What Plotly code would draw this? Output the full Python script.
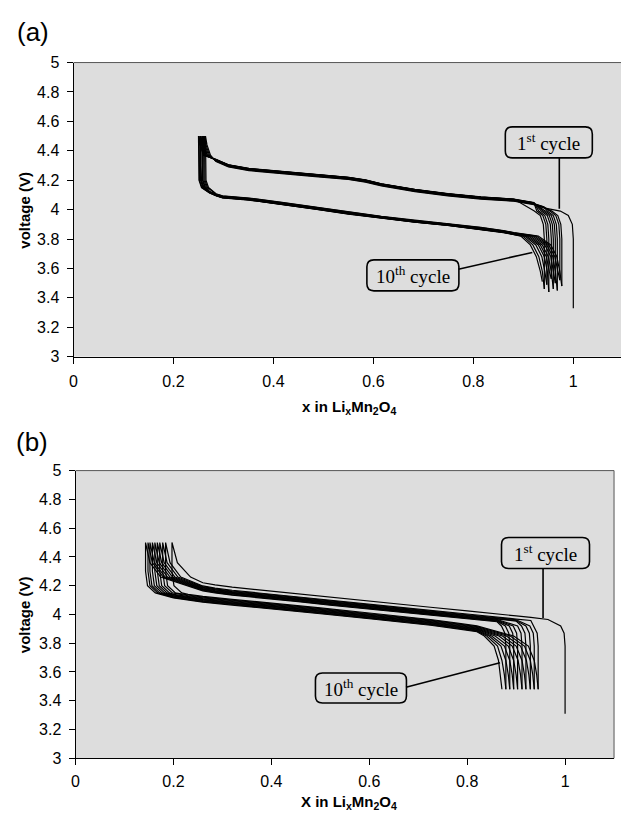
import plotly.graph_objects as go

# ---------------- shared axis ticks ----------------
X_TICKS = [0, 0.2, 0.4, 0.6, 0.8, 1]
X_TICK_TEXT = ["0", "0.2", "0.4", "0.6", "0.8", "1"]
Y_TICKS = [3, 3.2, 3.4, 3.6, 3.8, 4, 4.2, 4.4, 4.6, 4.8, 5]
Y_TICK_TEXT = ["3", "3.2", "3.4", "3.6", "3.8", "4", "4.2", "4.4", "4.6", "4.8", "5"]
CYCLES = [1, 2, 3, 4, 5, 6, 7, 8, 9, 10]
V_CUTOFF = 4.5

# ---------------- panel (a) ----------------
A_FIRST_X = 1.0
A_FIRST_V = 3.33
A_X_TOP = [0.264, 0.262, 0.260, 0.258, 0.257, 0.255, 0.254, 0.253, 0.251, 0.250]
A_X_END = [0.977, 0.973, 0.968, 0.964, 0.960, 0.956, 0.951, 0.947, 0.942, 0.938]
A_V_END = [3.48, 3.52, 3.45, 3.50, 3.46, 3.53, 3.44, 3.49, 3.46, 3.51]
# charge head (rising from the discharge end)
A_HEAD_V = [3.80, 3.90, 3.96, 3.99]
A_HEAD_X = [
    [1.000, 0.998, 0.990, 0.974],
    [0.977, 0.975, 0.969, 0.957],
    [0.973, 0.971, 0.965, 0.953],
    [0.968, 0.966, 0.960, 0.948],
    [0.964, 0.962, 0.956, 0.944],
    [0.960, 0.958, 0.952, 0.940],
    [0.956, 0.954, 0.948, 0.936],
    [0.951, 0.949, 0.943, 0.931],
    [0.947, 0.945, 0.939, 0.927],
    [0.942, 0.940, 0.934, 0.922],
]
# charge plateau (x decreasing)
A_CH_PLAT_X = [0.960, 0.941, 0.921, 0.881, 0.815, 0.749, 0.683, 0.616, 0.584, 0.550, 0.484, 0.417, 0.351, 0.310, 0.285]
A_CH_PLAT_V = [4.000, 4.012, 4.034, 4.057, 4.072, 4.094, 4.123, 4.161, 4.187, 4.205, 4.225, 4.243, 4.265, 4.290, 4.327]
A_CH_DV = [0.000, 0.003, 0.005, 0.007, 0.009, 0.011, 0.012, 0.013, 0.014, 0.015]
# charge end bend towards the 4.5 V cut-off
A_CH_BEND_V = [4.37, 4.44]
A_CH_BEND_X = [
    [0.274, 0.267], [0.272, 0.265], [0.270, 0.263], [0.268, 0.261], [0.267, 0.260],
    [0.265, 0.258], [0.264, 0.257], [0.263, 0.256], [0.261, 0.254], [0.260, 0.253],
]
# discharge start drop
A_DIS_BEND_V = [4.30, 4.20, 4.15]
A_DIS_BEND_X = [
    [0.264, 0.265, 0.270], [0.262, 0.263, 0.268], [0.260, 0.261, 0.266], [0.258, 0.259, 0.264],
    [0.257, 0.258, 0.263], [0.255, 0.256, 0.261], [0.254, 0.255, 0.260], [0.253, 0.254, 0.259],
    [0.251, 0.252, 0.257], [0.250, 0.251, 0.256],
]
# discharge plateau (x increasing)
A_DIS_PLAT_X = [0.272, 0.285, 0.298, 0.351, 0.417, 0.484, 0.550, 0.616, 0.683, 0.749, 0.815, 0.860, 0.881]
A_DIS_PLAT_V = [4.128, 4.108, 4.094, 4.079, 4.050, 4.017, 3.984, 3.954, 3.928, 3.906, 3.879, 3.858, 3.844]
A_DIS_DV = [0.000, -0.002, -0.004, -0.006, -0.008, -0.010, -0.011, -0.012, -0.013, -0.014]
# discharge tail (falling to the cut-off)
A_TAIL_V = [3.82, 3.76, 3.68, 3.58]
A_TAIL_X = [
    [0.930, 0.955, 0.967, 0.973],
    [0.926, 0.951, 0.963, 0.969],
    [0.922, 0.947, 0.959, 0.964],
    [0.918, 0.943, 0.955, 0.960],
    [0.914, 0.938, 0.950, 0.956],
    [0.910, 0.934, 0.946, 0.952],
    [0.906, 0.930, 0.942, 0.948],
    [0.903, 0.925, 0.937, 0.943],
    [0.899, 0.919, 0.931, 0.938],
    [0.895, 0.914, 0.926, 0.934],
]

# ---------------- panel (b) ----------------
B_FIRST_X = 1.0
B_FIRST_V = 3.31
B_X_TOP = [0.197, 0.184, 0.178, 0.172, 0.167, 0.162, 0.157, 0.152, 0.148, 0.143]
B_X_END = [0.945, 0.937, 0.929, 0.920, 0.912, 0.903, 0.895, 0.887, 0.879, 0.871]
B_V_END = [3.48, 3.48, 3.48, 3.48, 3.48, 3.48, 3.48, 3.48, 3.48, 3.48]
B_HEAD_V = [3.78, 3.87, 3.92]
B_HEAD_X = [
    [1.000, 0.998, 0.991],
    [0.945, 0.943, 0.936],
    [0.937, 0.935, 0.928],
    [0.929, 0.927, 0.920],
    [0.920, 0.918, 0.911],
    [0.912, 0.910, 0.903],
    [0.903, 0.901, 0.894],
    [0.895, 0.893, 0.886],
    [0.887, 0.885, 0.878],
    [0.879, 0.877, 0.870],
]
B_CH_PLAT_X = [0.965, 0.945, 0.930, 0.900, 0.861, 0.800, 0.725, 0.650, 0.590, 0.520, 0.455, 0.390, 0.320, 0.285, 0.260]
B_CH_PLAT_V = [3.965, 3.975, 3.980, 3.990, 4.005, 4.025, 4.050, 4.075, 4.095, 4.120, 4.145, 4.165, 4.190, 4.205, 4.220]
B_CH_DV = [0.000, -0.022, -0.027, -0.032, -0.036, -0.040, -0.044, -0.048, -0.052, -0.056]
B_CH_BEND_V = [4.26, 4.36]
B_CH_BEND_X = [
    [0.235, 0.208], [0.215, 0.193], [0.209, 0.187], [0.203, 0.181], [0.198, 0.176],
    [0.193, 0.171], [0.188, 0.166], [0.183, 0.161], [0.179, 0.157], [0.174, 0.152],
]
B_DIS_BEND_V = [4.30, 4.20, 4.15]
B_DIS_BEND_X = [
    [0.197, 0.201, 0.217], [0.184, 0.188, 0.204], [0.178, 0.182, 0.198], [0.172, 0.176, 0.192],
    [0.167, 0.171, 0.187], [0.162, 0.166, 0.182], [0.157, 0.161, 0.177], [0.152, 0.156, 0.172],
    [0.148, 0.152, 0.168], [0.143, 0.147, 0.163],
]
B_DIS_PLAT_X = [0.200, 0.230, 0.260, 0.320, 0.400, 0.455, 0.500, 0.600, 0.700, 0.725, 0.780, 0.820]
B_DIS_PLAT_V = [4.135, 4.120, 4.105, 4.085, 4.060, 4.040, 4.025, 3.990, 3.955, 3.945, 3.920, 3.900]
B_DIS_DV = [0.020, 0.015, 0.010, 0.005, 0.000, -0.004, -0.008, -0.012, -0.016, -0.020]
B_TAIL_V = [3.85, 3.78, 3.68, 3.58]
B_TAIL_X = [
    [0.895, 0.925, 0.937, 0.942],
    [0.888, 0.917, 0.929, 0.934],
    [0.880, 0.909, 0.921, 0.926],
    [0.872, 0.900, 0.912, 0.917],
    [0.865, 0.892, 0.904, 0.909],
    [0.857, 0.884, 0.895, 0.900],
    [0.850, 0.876, 0.887, 0.892],
    [0.845, 0.869, 0.879, 0.884],
    [0.840, 0.862, 0.871, 0.876],
    [0.835, 0.855, 0.864, 0.868],
]

PANEL_A = dict(first_x=A_FIRST_X, first_v=A_FIRST_V, x_top=A_X_TOP, x_end=A_X_END, v_end=A_V_END,
               head_v=A_HEAD_V, head_x=A_HEAD_X, ch_px=A_CH_PLAT_X, ch_pv=A_CH_PLAT_V, ch_dv=A_CH_DV,
               ch_bv=A_CH_BEND_V, ch_bx=A_CH_BEND_X, d_bv=A_DIS_BEND_V, d_bx=A_DIS_BEND_X,
               d_px=A_DIS_PLAT_X, d_pv=A_DIS_PLAT_V, d_dv=A_DIS_DV, t_v=A_TAIL_V, t_x=A_TAIL_X)
PANEL_B = dict(first_x=B_FIRST_X, first_v=B_FIRST_V, x_top=B_X_TOP, x_end=B_X_END, v_end=B_V_END,
               head_v=B_HEAD_V, head_x=B_HEAD_X, ch_px=B_CH_PLAT_X, ch_pv=B_CH_PLAT_V, ch_dv=B_CH_DV,
               ch_bv=B_CH_BEND_V, ch_bx=B_CH_BEND_X, d_bv=B_DIS_BEND_V, d_bx=B_DIS_BEND_X,
               d_px=B_DIS_PLAT_X, d_pv=B_DIS_PLAT_V, d_dv=B_DIS_DV, t_v=B_TAIL_V, t_x=B_TAIL_X)


def cycle_curve(i, p):
    xs, vs = [], []
    if i == 0:
        xs.append(p["first_x"]); vs.append(p["first_v"])
    else:
        xs.append(p["x_end"][i - 1]); vs.append(p["v_end"][i - 1])
    # charge
    for x, v in zip(p["head_x"][i], p["head_v"]):
        xs.append(x); vs.append(v)
    hi = p["head_x"][i][-1] - 0.004
    lo = p["ch_bx"][i][0] + 0.004
    for x, v in zip(p["ch_px"], p["ch_pv"]):
        if lo < x < hi:
            xs.append(x); vs.append(v + p["ch_dv"][i])
    for x, v in zip(p["ch_bx"][i], p["ch_bv"]):
        xs.append(x); vs.append(v)
    xs.append(p["x_top"][i]); vs.append(V_CUTOFF)
    # discharge
    for x, v in zip(p["d_bx"][i], p["d_bv"]):
        xs.append(x); vs.append(v)
    lo = p["d_bx"][i][-1] + 0.004
    hi = p["t_x"][i][0] - 0.004
    for x, v in zip(p["d_px"], p["d_pv"]):
        if lo < x < hi:
            xs.append(x); vs.append(v + p["d_dv"][i])
    for x, v in zip(p["t_x"][i], p["t_v"]):
        xs.append(x); vs.append(v)
    xs.append(p["x_end"][i]); vs.append(p["v_end"][i])
    return xs, vs


fig = go.Figure()
for panel, xa, ya in [(PANEL_A, "x", "y"), (PANEL_B, "x2", "y2")]:
    for i, c in enumerate(CYCLES):
        xs, vs = cycle_curve(i, panel)
        fig.add_trace(go.Scatter(x=xs, y=vs, mode="lines", xaxis=xa, yaxis=ya,
                                 line=dict(color="black", width=1.2), name=f"cycle {c}",
                                 showlegend=False, hoverinfo="skip"))

W, H = 621, 828
SANS = "Liberation Sans, Arial, sans-serif"
SERIF = "Liberation Serif, Times New Roman, serif"

axis_common = dict(showgrid=False, zeroline=False, showline=True, linecolor="black", linewidth=1,
                   ticks="outside", ticklen=6, tickcolor="black", tickwidth=1,
                   tickfont=dict(family=SANS, size=16, color="black"))

fig.update_layout(
    width=W, height=H, margin=dict(l=0, r=0, t=0, b=0),
    paper_bgcolor="white", plot_bgcolor="#dddddd", showlegend=False,
    xaxis=dict(domain=[70 / W, 1.0], range=[0, 551 / 503], anchor="y",
               tickvals=X_TICKS, ticktext=X_TICK_TEXT, ticklabelstandoff=4, **axis_common),
    yaxis=dict(domain=[1 - 356 / H, 1 - 55.7 / H], range=[3, 5], anchor="x",
               tickvals=Y_TICKS, ticktext=Y_TICK_TEXT, ticklabelstandoff=4, **axis_common),
    xaxis2=dict(domain=[72 / W, 614 / W], range=[0, 1.1], anchor="y2",
                tickvals=X_TICKS, ticktext=X_TICK_TEXT, ticklabelstandoff=3, **axis_common),
    yaxis2=dict(domain=[1 - 766 / H, 1 - 472.3 / H], range=[3, 5], anchor="x2",
                tickvals=Y_TICKS, ticktext=Y_TICK_TEXT, ticklabelstandoff=4, **axis_common),
)

# plot frame (top / right borders)
border = dict(color="#555555", width=1)
fig.add_shape(type="line", xref="x domain", yref="y domain", x0=0, x1=1, y0=1, y1=1, line=border)
fig.add_shape(type="line", xref="x2 domain", yref="y2 domain", x0=0, x1=1, y0=1, y1=1, line=border)
fig.add_shape(type="line", xref="x2 domain", yref="y2 domain", x0=1, x1=1, y0=0, y1=1, line=border)


def rounded_box(xref, yref, cx, cy, w, h, r=7):
    a, b = w / 2, h / 2
    path = (f"M {-a + r},{-b} L {a - r},{-b} Q {a},{-b} {a},{-b + r} "
            f"L {a},{b - r} Q {a},{b} {a - r},{b} L {-a + r},{b} Q {-a},{b} {-a},{b - r} "
            f"L {-a},{-b + r} Q {-a},{-b} {-a + r},{-b} Z")
    fig.add_shape(type="path", xref=xref, yref=yref, xsizemode="pixel", ysizemode="pixel",
                  xanchor=cx, yanchor=cy, path=path, line=dict(color="black", width=1.6),
                  fillcolor="rgba(0,0,0,0)")


def label(xref, yref, cx, cy, text):
    fig.add_annotation(xref=xref, yref=yref, x=cx, y=cy, text=text, showarrow=False,
                       font=dict(family=SERIF, size=19, color="black"), xanchor="center", yanchor="middle")


def leader(xref, yref, x0, y0, x1, y1):
    fig.add_shape(type="line", xref=xref, yref=yref, x0=x0, y0=y0, x1=x1, y1=y1,
                  line=dict(color="black", width=1.6))


FIRST_TXT = "1<sup>st</sup> cycle"
TENTH_TXT = "10<sup>th</sup> cycle"

# panel (a) callouts
leader("x", "y", 0.972, 4.354, 0.972, 4.006)
leader("x", "y", 0.770, 3.595, 0.918, 3.709)
rounded_box("x", "y", 0.951, 4.457, 87, 31)
rounded_box("x", "y", 0.679, 3.553, 92, 31)
label("x", "y", 0.951, 4.457, FIRST_TXT)
label("x", "y", 0.679, 3.553, TENTH_TXT)

# panel (b) callouts
leader("x2", "y2", 0.955, 4.321, 0.955, 3.975)
leader("x2", "y2", 0.675, 3.494, 0.867, 3.664)
rounded_box("x2", "y2", 0.960, 4.427, 88, 31)
rounded_box("x2", "y2", 0.583, 3.489, 91, 30)
label("x2", "y2", 0.960, 4.427, FIRST_TXT)
label("x2", "y2", 0.583, 3.489, TENTH_TXT)

# axis titles and panel letters
title_font = dict(family=SANS, size=15, color="black")
fig.add_annotation(xref="paper", yref="paper", x=347 / W, y=1 - 408 / H, showarrow=False,
                   text="<b>x in Li<sub>x</sub>Mn<sub>2</sub>O<sub>4</sub></b>", font=title_font,
                   xanchor="center", yanchor="middle")
fig.add_annotation(xref="paper", yref="paper", x=347 / W, y=1 - 811 / H, showarrow=False,
                   text="<b>X in Li<sub>x</sub>Mn<sub>2</sub>O<sub>4</sub></b>", font=title_font,
                   xanchor="center", yanchor="middle")
fig.add_annotation(xref="paper", yref="paper", x=21 / W, y=1 - 206 / H, showarrow=False,
                   text="<b>voltage (V)</b>", textangle=-90, font=title_font,
                   xanchor="center", yanchor="middle")
fig.add_annotation(xref="paper", yref="paper", x=20 / W, y=1 - 619 / H, showarrow=False,
                   text="<b>voltage (V)</b>", textangle=-90, font=title_font,
                   xanchor="center", yanchor="middle")
fig.add_annotation(xref="paper", yref="paper", x=29 / W, y=1 - 25 / H, showarrow=False,
                   text="(a)", font=dict(family=SANS, size=26, color="black"),
                   xanchor="center", yanchor="middle")
fig.add_annotation(xref="paper", yref="paper", x=28 / W, y=1 - 443 / H, showarrow=False,
                   text="(b)", font=dict(family=SANS, size=26, color="black"),
                   xanchor="center", yanchor="middle")

fig.write_html("out.html", config={"displayModeBar": False},
               post_script="document.body.style.margin='0';")
